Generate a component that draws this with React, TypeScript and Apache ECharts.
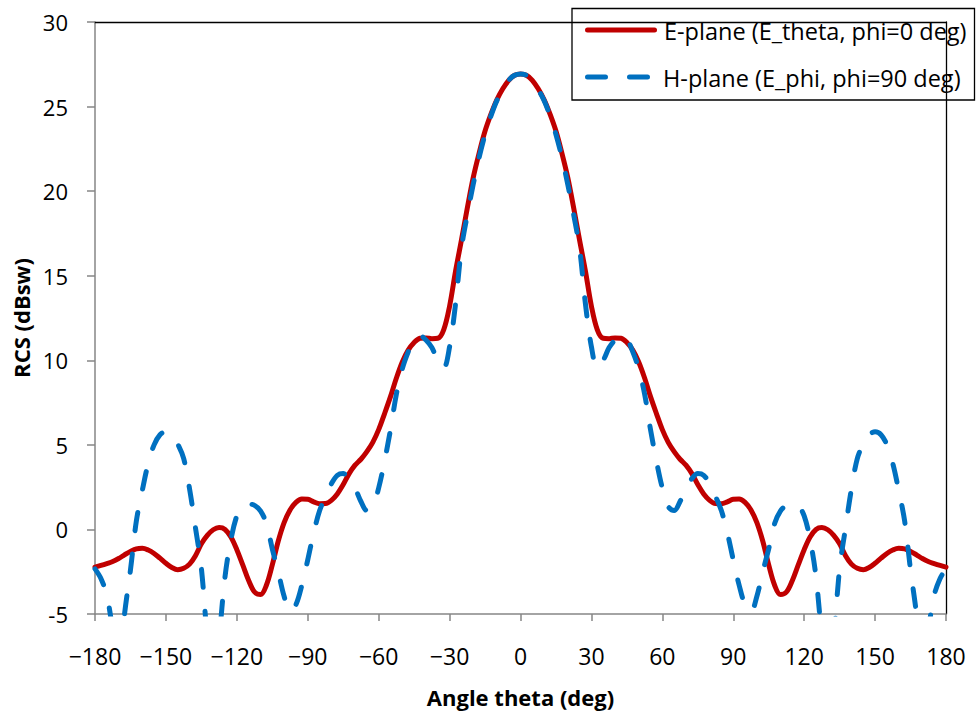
import React, { useEffect, useRef } from "react";
import * as echarts from "echarts";

const FONT = "'Open Sans', 'Noto Sans', sans-serif";

// Angle grid (deg), 2.5 deg sampling from -180 to 180
const THETA: number[] = Array.from({ length: 145 }, (_, i) => -180 + 2.5 * i);

const X_TICKS = [-180, -150, -120, -90, -60, -30, 0, 30, 60, 90, 120, 150, 180];

// E-plane (E_theta, phi=0 deg), dBsw
const E_PLANE: number[] = [
  -2.23, -2.13, -2.02, -1.9, -1.72, -1.5, -1.3, -1.15, -1.12, -1.22,
  -1.42, -1.7, -2.0, -2.25, -2.38, -2.3, -2.05, -1.55, -0.85, -0.35,
  -0.02, 0.11, 0.0, -0.45, -1.2, -2.1, -3.02, -3.7, -3.85, -3.3,
  -2.1, -0.7, 0.4, 1.15, 1.6, 1.8, 1.78, 1.63, 1.52, 1.53,
  1.72, 2.1, 2.65, 3.3, 3.8, 4.15, 4.6, 5.15, 5.9, 6.85,
  7.85, 8.95, 9.9, 10.6, 11.05, 11.3, 11.32, 11.28, 11.3, 11.8,
  13.2, 15.25, 17.1, 19.0, 20.8, 22.25, 23.55, 24.55, 25.4, 26.05,
  26.55, 26.85, 26.93,
  26.85, 26.55, 26.05, 25.4, 24.55, 23.55, 22.25, 20.8, 19.0, 17.1,
  15.25, 13.2, 11.8, 11.3, 11.28, 11.32, 11.3, 11.05, 10.6, 9.9,
  8.95, 7.85, 6.85, 5.9, 5.15, 4.6, 4.15, 3.8, 3.3, 2.65,
  2.1, 1.72, 1.53, 1.52, 1.63, 1.78, 1.8, 1.6, 1.15, 0.4,
  -0.7, -2.1, -3.3, -3.85, -3.7, -3.02, -2.1, -1.2, -0.45, 0.0,
  0.11, -0.02, -0.35, -0.85, -1.55, -2.05, -2.3, -2.38, -2.25, -2.0,
  -1.7, -1.42, -1.22, -1.12, -1.15, -1.3, -1.5, -1.72, -1.9, -2.02,
  -2.13, -2.23,
];

// H-plane (E_phi, phi=90 deg), dBsw
const H_PLANE: number[] = [
  -2.33, -2.9, -3.9, -6.0, -8.5, -5.0, -2.4, 0.5, 2.3, 3.9,
  5.0, 5.6, 5.77, 5.6, 5.05, 4.2, 2.4, 0.1, -2.3, -6.5,
  -10, -6.5, -2.8, -0.6, 0.8, 1.4, 1.5, 1.42, 1.1, 0.35,
  -1.15, -2.5, -3.95, -4.85, -4.45, -3.3, -1.8, -0.2, 1.1, 1.95,
  2.7, 3.2, 3.3, 3.0, 2.45, 1.65, 1.12, 1.35, 2.45, 4.05,
  5.9, 8.0, 9.5, 10.5, 11.25, 11.45, 11.2, 10.75, 10.0, 9.55,
  10.8, 13.3, 16.6, 18.6, 20.4, 22.0, 23.35, 24.45, 25.35, 26.0,
  26.55, 26.85, 26.93,
  26.85, 26.55, 26.0, 25.35, 24.45, 23.35, 22.0, 20.4, 18.6, 16.6,
  13.3, 10.8, 9.55, 10.0, 10.75, 11.2, 11.45, 11.25, 10.5, 9.5,
  8.0, 5.9, 4.05, 2.45, 1.35, 1.12, 1.65, 2.45, 3.0, 3.3,
  3.2, 2.7, 1.95, 1.1, -0.2, -1.8, -3.3, -4.45, -4.85, -3.95,
  -2.5, -1.15, 0.35, 1.1, 1.42, 1.5, 1.4, 0.8, -0.6, -2.8,
  -6.5, -10, -6.5, -2.3, 0.1, 2.4, 4.2, 5.05, 5.6, 5.77,
  5.6, 5.0, 3.9, 2.3, 0.5, -2.4, -5.0, -8.5, -6.0, -3.9,
  -2.9, -2.33,
];

const SERIES_NAMES = ["E-plane (E_theta, phi=0 deg)", "H-plane (E_phi, phi=90 deg)"];
const RED = "#C00000";
const BLUE = "#0070C0";
const AXIS_GRAY = "#868686";

export default function App() {
  const ref = useRef<HTMLDivElement>(null);

  useEffect(() => {
    if (!ref.current) return;
    const chart = echarts.init(ref.current, null, { renderer: "svg" });
    const xMin = X_TICKS[0];
    const xMax = X_TICKS[X_TICKS.length - 1];

    const option: any = {
      animation: false,
      backgroundColor: "#ffffff",
      textStyle: { fontFamily: FONT },
      grid: { left: 95, top: 22, right: 30, bottom: 92 },
      xAxis: [
        {
          type: "value",
          min: xMin,
          max: xMax,
          interval: 30,
          name: "Angle theta (deg)",
          nameLocation: "middle",
          nameGap: 72,
          nameTextStyle: { fontFamily: FONT, fontWeight: "bold", fontSize: 22, color: "#000" },
          axisLine: { onZero: false, lineStyle: { color: AXIS_GRAY, width: 1.5 } },
          axisTick: { length: 7, lineStyle: { color: AXIS_GRAY, width: 1.5 } },
          axisLabel: {
            color: "#000",
            fontFamily: FONT,
            fontSize: 23,
            margin: 30,
            formatter: (v: number) => String(v).replace("-", "\u2212"),
          },
          splitLine: { show: false },
        },
        {
          type: "value",
          position: "top",
          min: xMin,
          max: xMax,
          interval: 30,
          axisLine: { onZero: false, lineStyle: { color: "#000", width: 1.3 } },
          axisTick: { show: false },
          axisLabel: { show: false },
          splitLine: { show: false },
        },
      ],
      yAxis: [
        {
          type: "value",
          min: -5,
          max: 30,
          interval: 5,
          name: "RCS (dBsw)",
          nameLocation: "middle",
          nameGap: 62,
          nameRotate: 90,
          nameTextStyle: { fontFamily: FONT, fontWeight: "bold", fontSize: 22, color: "#000" },
          axisLine: { onZero: false, lineStyle: { color: AXIS_GRAY, width: 1.5 } },
          axisTick: { length: 8, lineStyle: { color: AXIS_GRAY, width: 1.5 } },
          axisLabel: { color: "#000", fontFamily: FONT, fontSize: 22, margin: 27 },
          splitLine: { show: false },
        },
        {
          type: "value",
          position: "right",
          min: -5,
          max: 30,
          interval: 5,
          axisLine: { onZero: false, lineStyle: { color: "#000", width: 1.3 } },
          axisTick: { show: false },
          axisLabel: { show: false },
          splitLine: { show: false },
        },
      ],
      series: [
        {
          name: SERIES_NAMES[0],
          type: "line",
          xAxisIndex: 0,
          yAxisIndex: 0,
          data: THETA.map((t, i) => [t, E_PLANE[i]]),
          symbol: "none",
          smooth: 0.35,
          clip: true,
          lineStyle: { color: RED, width: 5, cap: "round", join: "round" },
          z: 2,
        },
        {
          name: SERIES_NAMES[1],
          type: "line",
          xAxisIndex: 0,
          yAxisIndex: 0,
          data: THETA.map((t, i) => [t, H_PLANE[i]]),
          symbol: "none",
          smooth: 0.35,
          clip: true,
          lineStyle: { color: BLUE, width: 5, type: [18, 24], cap: "round", join: "round" },
          z: 3,
        },
      ],
      graphic: [
        {
          type: "group",
          z: 100,
          children: [
            {
              type: "rect",
              shape: { x: 572, y: 8.5, width: 402.5, height: 91.5 },
              style: { fill: "#ffffff", stroke: "#000000", lineWidth: 1.3 },
            },
            {
              type: "line",
              shape: { x1: 587.5, y1: 30, x2: 654.5, y2: 30 },
              style: { stroke: RED, lineWidth: 5, lineCap: "round" },
            },
            {
              type: "line",
              shape: { x1: 587.5, y1: 77, x2: 647.5, y2: 77 },
              style: { stroke: BLUE, lineWidth: 5, lineCap: "round", lineDash: [18, 24] },
            },
            {
              type: "text",
              x: 664,
              y: 31,
              style: {
                text: SERIES_NAMES[0],
                font: `23.5px ${FONT}`,
                fill: "#000",
                textVerticalAlign: "middle",
              },
            },
            {
              type: "text",
              x: 663,
              y: 78,
              style: {
                text: SERIES_NAMES[1],
                font: `23.5px ${FONT}`,
                fill: "#000",
                textVerticalAlign: "middle",
              },
            },
          ],
        },
      ],
    };

    chart.setOption(option);
    return () => chart.dispose();
  }, []);

  return (
    <div
      ref={ref}
      style={{ position: "fixed", left: 0, top: 0, width: 976, height: 713, background: "#fff" }}
    />
  );
}
